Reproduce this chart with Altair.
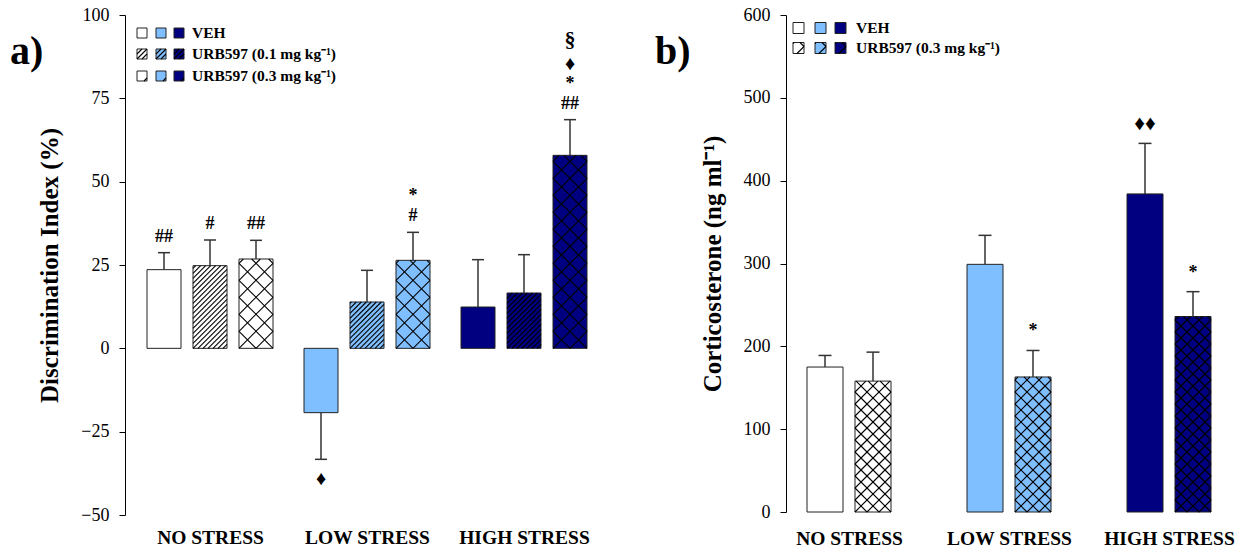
import json
import math

import altair as alt
import pandas as pd

# ---------------------------------------------------------------- data
stress_levels = ["NO STRESS", "LOW STRESS", "HIGH STRESS"]
level_colors = ["#FFFFFF", "#80BFFF", "#000080"]

# a) novel object recognition: discrimination index (%), mean ± SEM
di_treatments = ["VEH", "URB597 (0.1 mg kg⁻¹)", "URB597 (0.3 mg kg⁻¹)"]
di_veh_mean = [23.6, -19.3, 12.4]
di_veh_sem = [5.1, 14.0, 14.2]
di_urb01_mean = [24.8, 13.9, 16.6]
di_urb01_sem = [7.7, 9.5, 11.5]
di_urb03_mean = [26.8, 26.4, 57.9]
di_urb03_sem = [5.6, 8.4, 10.7]
# significance symbols, listed from the error bar outwards
di_veh_marks = [["##"], ["♦"], []]
di_urb01_marks = [["#"], [], []]
di_urb03_marks = [["##"], ["#", "*"], ["##", "*", "♦", "§"]]

# b) plasma corticosterone (ng/ml), mean ± SEM
cort_treatments = ["VEH", "URB597 (0.3 mg kg⁻¹)"]
cort_veh_mean = [175, 299, 384]
cort_veh_sem = [14, 35, 61]
cort_urb03_mean = [158, 163, 236]
cort_urb03_sem = [35, 32, 30]
cort_veh_marks = [[], [], ["♦♦"]]
cort_urb03_marks = [[], ["*"], ["*"]]

FONT = "Liberation Serif"
SYMBOL_SIZE = {"§": 22, "♦": 20, "♦♦": 21}


def hatch_lines(x0, x1, y0, y1, kx, ky, pattern, spacing, phase=0.0):
    """Clip 45° hatch lines to a rectangle given in data units."""
    w = (x1 - x0) * kx
    h = (y1 - y0) * ky
    segs = []
    families = {"diag": [1], "cross": [1, -1]}[pattern]
    for d in families:
        if d == 1:  # rising lines: py = px - c
            c = -math.ceil(h / spacing) * spacing + phase
            while c < w:
                a, b = max(0.0, c), min(w, h + c)
                if b - a > 0.4:
                    segs.append((a, a - c, b, b - c))
                c += spacing
        else:  # falling lines: py = c - px
            c = spacing + phase
            while c < w + h:
                a, b = max(0.0, c - h), min(w, c)
                if b - a > 0.4:
                    segs.append((a, c - a, b, c - b))
                c += spacing
    return [
        dict(x=x0 + a / kx, x2=x0 + b / kx, y=y0 + p / ky, y2=y0 + q / ky)
        for a, p, b, q in segs
    ]


def panel(tag, tag_pos, y_title, y_domain, y_ticks, width, height, origin_px,
          group_px, step_px, bar_px, cap_px, treatments, means, sems, marks,
          hatches, hatch_px, legend, label_pad, title_pad, ann_gap):
    kx = group_px
    ky = height / (y_domain[1] - y_domain[0])
    xmin = -origin_px / kx
    xmax = xmin + width / kx
    n = len(treatments)

    bars, hatch, errs, anns = [], [], [], []
    for s in range(n):
        for g in range(len(stress_levels)):
            xc = g + (s - (n - 1) / 2) * step_px / kx
            x0, x1 = xc - bar_px / 2 / kx, xc + bar_px / 2 / kx
            m, e = means[s][g], sems[s][g]
            lo, hi = min(0, m), max(0, m)
            bars.append(dict(x=x0, x2=x1, y=lo, y2=hi, fill=level_colors[g]))
            if hatches[s]:
                hatch += hatch_lines(x0, x1, lo, hi, kx, ky, hatches[s], hatch_px[s])
            sign = 1 if m >= 0 else -1
            end = m + sign * e
            errs.append(dict(x=xc, y=m, y2=end,
                             cx=xc - cap_px / 2 / kx, cx2=xc + cap_px / 2 / kx))
            for i, sym in enumerate(marks[s][g]):
                off_px = ann_gap + i * 20 + (4 if sym == "§" else 0)
                if sign < 0:
                    off_px += 4
                anns.append(dict(x=xc, y=end + sign * off_px / ky, t=sym,
                                 fs=SYMBOL_SIZE.get(sym, 18)))

    # legend: one row per treatment, one swatch per stress level
    leg_rects, leg_text = [], []
    for r, name in enumerate(treatments):
        cy = y_domain[1] - legend["rows"][r] / ky
        half = legend["size"] / 2 / ky
        for g, left in enumerate(legend["lefts"]):
            lx0 = xmin + left / kx
            lx1 = lx0 + legend["size"] / kx
            leg_rects.append(dict(x=lx0, x2=lx1, y=cy - half, y2=cy + half,
                                  fill=level_colors[g]))
            if hatches[r]:
                hatch += hatch_lines(lx0, lx1, cy - half, cy + half, kx, ky,
                                     hatches[r], legend["hatch"][r],
                                     legend["phase"][r])
        leg_text.append(dict(x=xmin + legend["text"] / kx, y=cy, t=name))

    label_expr = f"{json.dumps(stress_levels)}[datum.value]"
    x_axis = alt.Axis(values=[0, 1, 2], labelExpr=label_expr, domain=False,
                      ticks=False, grid=False, title=None, labelFont=FONT,
                      labelFontSize=19.5, labelFontWeight="bold", labelColor="black",
                      labelPadding=label_pad, labelFlush=False, labelOverlap=False)
    y_axis = alt.Axis(values=y_ticks, title=y_title, grid=False, domainColor="black",
                      tickColor="black", tickSize=6, labelFont=FONT, labelFontSize=18,
                      labelColor="black", labelPadding=10, labelFlush=False,
                      labelOverlap=False, titleFont=FONT, titleFontSize=25,
                      titleFontWeight="bold", titleColor="black",
                      titlePadding=title_pad)
    xs = alt.Scale(domain=[xmin, xmax], nice=False, zero=False)
    ys = alt.Scale(domain=y_domain, nice=False, zero=False)

    def X(f):
        return alt.X(f"{f}:Q", scale=xs, axis=x_axis)

    def Y(f):
        return alt.Y(f"{f}:Q", scale=ys, axis=y_axis)

    bar_layer = alt.Chart(pd.DataFrame(bars + leg_rects)).mark_rect(
        stroke="#222222", strokeWidth=1
    ).encode(x=X("x"), x2="x2", y=Y("y"), y2="y2",
             fill=alt.Fill("fill:N", scale=None))
    hatch_layer = alt.Chart(pd.DataFrame(hatch)).mark_rule(
        color="black", strokeWidth=1.1
    ).encode(x=X("x"), x2="x2", y=Y("y"), y2="y2")
    err_df = pd.DataFrame(errs)
    stem_layer = alt.Chart(err_df).mark_rule(color="#333333", strokeWidth=1.5).encode(
        x=X("x"), y=Y("y"), y2="y2")
    cap_layer = alt.Chart(err_df).mark_rule(color="#333333", strokeWidth=1.5).encode(
        x=X("cx"), x2="cx2", y=Y("y2"))
    ann_layer = alt.Chart(pd.DataFrame(anns)).mark_text(
        font=FONT, fontWeight="bold", baseline="middle", color="black"
    ).encode(x=X("x"), y=Y("y"), text="t:N", size=alt.Size("fs:Q", scale=None))
    leg_layer = alt.Chart(pd.DataFrame(leg_text)).mark_text(
        font=FONT, fontWeight="bold", fontSize=15.5, align="left", baseline="middle",
        color="black"
    ).encode(x=X("x"), y=Y("y"), text="t:N")
    tag_layer = alt.Chart(pd.DataFrame({"t": [tag]})).mark_text(
        font=FONT, fontWeight="bold", fontSize=40, align="left", baseline="middle",
        color="black"
    ).encode(x=alt.value(tag_pos[0]), y=alt.value(tag_pos[1]), text="t:N")

    return alt.layer(bar_layer, hatch_layer, stem_layer, cap_layer, ann_layer,
                     leg_layer, tag_layer).properties(width=width, height=height)


chart_a = panel(
    "a)", (-115, 37), "Discrimination Index (%)", [-50, 100],
    [-50, -25, 0, 25, 50, 75, 100],
    width=500, height=500, origin_px=85, group_px=157, step_px=46, bar_px=34,
    cap_px=12, treatments=di_treatments,
    means=[di_veh_mean, di_urb01_mean, di_urb03_mean],
    sems=[di_veh_sem, di_urb01_sem, di_urb03_sem],
    marks=[di_veh_marks, di_urb01_marks, di_urb03_marks],
    hatches=[None, "diag", "cross"], hatch_px=[None, 5, 17],
    legend=dict(rows=[18, 39, 61], lefts=[12, 31, 49], size=10, text=67,
                hatch=[None, 5, 17], phase=[0, 0, 7]),
    label_pad=13, title_pad=18, ann_gap=16,
)

chart_b = panel(
    "b)", (-131, 37), "Corticosterone (ng ml⁻¹)", [0, 600],
    [0, 100, 200, 300, 400, 500, 600],
    width=440, height=497, origin_px=63, group_px=160, step_px=48, bar_px=36,
    cap_px=13, treatments=cort_treatments,
    means=[cort_veh_mean, cort_urb03_mean],
    sems=[cort_veh_sem, cort_urb03_sem],
    marks=[cort_veh_marks, cort_urb03_marks],
    hatches=[None, "cross"], hatch_px=[None, 12],
    legend=dict(rows=[13, 33], lefts=[7, 29, 49], size=11, text=70,
                hatch=[None, 14], phase=[0, 4]),
    label_pad=17, title_pad=18, ann_gap=19,
)

chart = alt.hconcat(chart_a, chart_b, spacing=30).properties(
    padding={"left": 10, "top": 6, "right": 5, "bottom": 5}
).configure_view(stroke=None)

chart.save("out.html", embed_options={"renderer": "svg", "actions": False})
